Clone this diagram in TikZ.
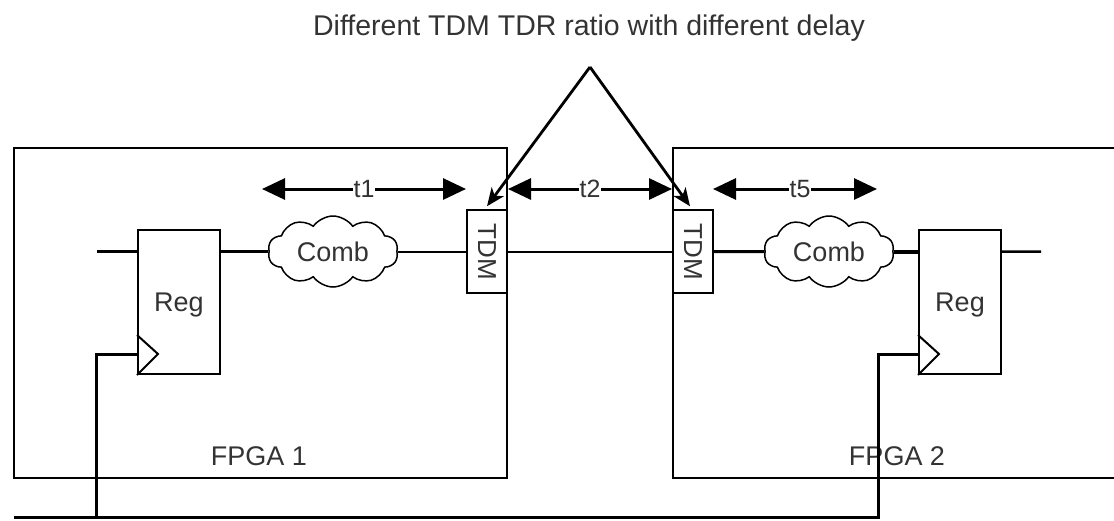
\documentclass[tikz,border=0pt]{standalone}
\usepackage{fontspec}
\setmainfont{Liberation Sans}
\usetikzlibrary{arrows.meta,shapes.symbols,calc}
\definecolor{ink}{HTML}{333333}

\tikzset{
  txt/.style={text=ink,font=\fontsize{27}{30}\selectfont,inner sep=0pt},
  fpga/.style={draw=black,line width=2pt},
  regbox/.style={draw=black,line width=2pt,fill=white,minimum width=82pt,minimum height=144pt,
                 inner sep=0pt,text=ink,font=\fontsize{27}{30}\selectfont,text depth=0pt},
  tdmbox/.style={draw=black,line width=1.5pt,fill=white,minimum width=40pt,minimum height=83pt,
                 inner sep=0pt,text=ink,font=\fontsize{26}{30}\selectfont},
  comb/.style={cloud,cloud puffs=10,cloud puff arc=110,aspect=1.8,draw=black,line width=1.5pt,
               fill=white,minimum width=130pt,minimum height=71pt,inner sep=0pt,
               text=ink,font=\fontsize{27}{30}\selectfont,text depth=0pt},
  wire/.style={draw=black,line width=2pt},
  heavy/.style={draw=black,line width=3.5pt},
  clk/.style={draw=black,line width=3pt},
  span/.style={draw=black,line width=3pt,
               {Triangle[length=23pt,width=21pt]}-{Triangle[length=23pt,width=21pt]}},
  spanlbl/.style={fill=white,inner sep=1pt,text=ink,font=\fontsize{25}{30}\selectfont},
  ptr/.style={draw=black,line width=2.8pt,-{Stealth[length=18pt,width=15pt,inset=5pt]}},
}

\begin{document}
\begin{tikzpicture}[x=1pt,y=-1pt]
\useasboundingbox (0,0) rectangle (1114,520);
\clip (0,0) rectangle (1114,520);

% the two FPGA boards (the second runs past the right edge)
\draw[fpga] (14,148) rectangle (507,478);
\draw[fpga] (673,148) rectangle (1130,478);
\node[txt,anchor=base] (f1) at (259,465) {FPGA 1};
\node[txt,anchor=base] (f2) at (897,465) {FPGA 2};

% registers, combinational clouds and TDM blocks
\node[regbox] (r1) at (179,302) {Reg};
\node[regbox] (r2) at (960,302) {Reg};
\node[comb] (c1) at (333,251.5) {Comb};
\node[comb] (c2) at (829,251.5) {Comb};
\node[tdmbox] (d1) at (487,251.5) {\rotatebox{-90}{TDM}};
\node[tdmbox] (d2) at (693,251.5) {\rotatebox{-90}{TDM}};

% clock-edge triangles on the registers
\draw[line width=2pt] ($(r1.south west)+(0,-40)$) -- ($(r1.south west)+(21,-21)$) -- (r1.south west);
\draw[line width=2pt] ($(r2.south west)+(0,-40)$) -- ($(r2.south west)+(21,-21)$) -- (r2.south west);

% data path
\coordinate (in1) at (97,251.5);
\coordinate (out2) at (1041,251.5);
\draw[wire,line width=2.5pt] (in1) -- (in1 -| r1.west);
\draw[heavy] (r1.east |- c1.west) -- (c1.west);
\draw[wire] (c1.east) -- (c1.east -| d1.west);
\draw[wire] (d1.east) -- (d2.west);
\draw[wire,line width=3pt] (d2.east) -- (c2.west);
\draw[heavy,line width=4pt] (c2.east) -- (c2.east -| r2.west);
\draw[wire,line width=2.5pt] (r2.east |- c2.east) -- (out2);

% shared clock line
\coordinate (ckL) at (14,517);
\coordinate (ck1) at (96,517);
\coordinate (ck2) at (878,517);
\draw[clk] (ckL) -- (ck2) |- ($(r2.south west)+(0,-21)$);
\draw[clk] (ck1) |- ($(r1.south west)+(0,-21)$);

% delay spans
\coordinate (t1a) at (262,189);
\coordinate (t1b) at (466,189);
\coordinate (t2a) at (508,189);
\coordinate (t2b) at (672,189);
\coordinate (t5a) at (713,189);
\coordinate (t5b) at (877,189);
\draw[span] (t1a) -- node[spanlbl] (l1) {t1} (t1b);
\draw[span] (t2a) -- node[spanlbl] (l2) {t2} (t2b);
\draw[span] (t5a) -- node[spanlbl,xshift=5pt] (l5) {t5} (t5b);

% annotation pointing at both TDM blocks
\node[txt,font=\fontsize{28.5}{30}\selectfont,anchor=base] (title) at (589,35)
  {Different TDM TDR ratio with different delay};
\coordinate (apex) at (590,67);
\draw[ptr] (apex) -- ([yshift=3pt]d1.north);
\draw[ptr] (apex) -- ([xshift=-3pt,yshift=3pt]d2.north);
\end{tikzpicture}
\end{document}
